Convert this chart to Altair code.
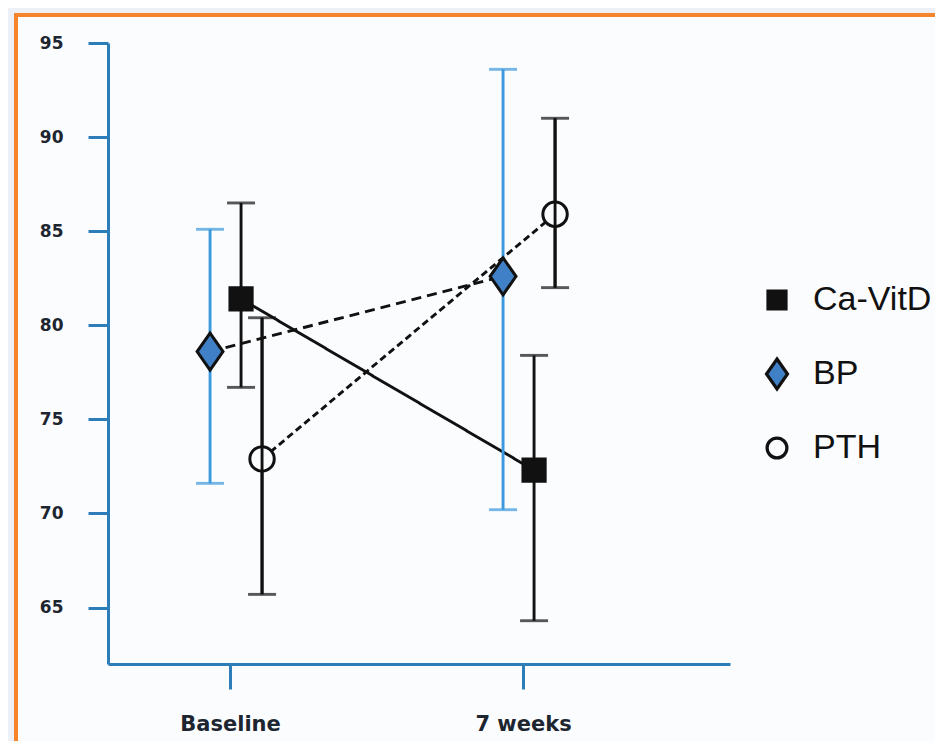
import altair as alt
import pandas as pd

# ---- data ----
series = ["Ca-VitD", "BP", "PTH"]
times = ["Baseline", "7 weeks"]
mean_ca = [81.4, 72.3]
low_ca = [76.7, 64.3]
high_ca = [86.5, 78.4]
mean_bp = [78.6, 82.6]
low_bp = [71.6, 70.2]
high_bp = [85.1, 93.6]
mean_pth = [72.9, 85.9]
low_pth = [65.7, 82.0]
high_pth = [80.4, 91.0]
y_ticks = [65, 70, 75, 80, 85, 90, 95]

# ---- styles ----
OFFSET = {"Ca-VitD": 11, "BP": -20, "PTH": 32}   # pixel dodge of each series
DASH = {"Ca-VitD": [1, 0], "BP": [10, 6], "PTH": [7, 4]}
BLACK = "#111111"
BLUE_BAR = "#3c99dd"
BLUE_FILL = "#3f80c6"
AXIS_BLUE = "#2d7db8"
LW = 2.9

rows = []
for s, m, lo, hi in [("Ca-VitD", mean_ca, low_ca, high_ca),
                     ("BP", mean_bp, low_bp, high_bp),
                     ("PTH", mean_pth, low_pth, high_pth)]:
    for i, t in enumerate(times):
        rows.append({"series": s, "time": t, "mean": m[i], "low": lo[i], "high": hi[i],
                     "off": OFFSET[s]})
df = pd.DataFrame(rows)

x_enc = alt.X("time:N", sort=times,
              scale=alt.Scale(type="point", domain=times, padding=0.5614, align=0.371),
              axis=alt.Axis(title=None, labelAngle=0, domainColor=AXIS_BLUE, domainWidth=3,
                            tickColor=AXIS_BLUE, tickWidth=3, tickSize=25,
                            labelFont="DejaVu Sans", labelFontWeight="bold", labelFontSize=21,
                            labelColor="#1d2630", labelPadding=24, zindex=1))
xo = alt.XOffset("off:Q", scale=None)
y_scale = alt.Scale(domain=[62, 95], nice=False, zero=False)
y_axis = alt.Axis(title=None, values=y_ticks, grid=False, domainColor=AXIS_BLUE, domainWidth=3,
                  tickColor=AXIS_BLUE, tickWidth=3, tickSize=20,
                  labelFont="DejaVu Sans", labelFontWeight="bold", labelFontSize=17,
                  labelColor="#1d2630", labelPadding=25, zindex=1)

base = alt.Chart(df)

frame = alt.Chart(pd.DataFrame({"a": [0]})).mark_rect(
    fill="#fbfcfe", stroke="#f5842a", strokeWidth=4, clip=False
).encode(x=alt.value(-92), x2=alt.value(880), y=alt.value(-28), y2=alt.value(760))

line_layers = []
for s in series:
    line_layers.append(
        base.transform_filter(alt.datum.series == s).mark_line(
            strokeWidth=LW, color=BLACK, strokeDash=DASH[s]).encode(
            x=x_enc, xOffset=xo,
            y=alt.Y("mean:Q", scale=y_scale, axis=y_axis),
            order=alt.Order("time_idx:Q"),
        ).transform_calculate(time_idx="datum.time == 'Baseline' ? 0 : 1")
    )

bar_color = alt.condition("datum.series == 'BP'", alt.value(BLUE_BAR), alt.value(BLACK))
rules = base.mark_rule(strokeWidth=LW).encode(
    x=x_enc, xOffset=xo, y=alt.Y("low:Q", scale=y_scale), y2="high:Q", color=bar_color)
caps_top = base.mark_tick(thickness=LW, size=28, orient="horizontal").encode(
    x=x_enc, xOffset=xo, y=alt.Y("high:Q", scale=y_scale), color=bar_color)
caps_low = base.mark_tick(thickness=LW, size=28, orient="horizontal").encode(
    x=x_enc, xOffset=xo, y=alt.Y("low:Q", scale=y_scale), color=bar_color)

shape_paths = [
    "M-0.6,-0.6L0.6,-0.6L0.6,0.6L-0.6,0.6Z",
    "M0,-1L0.7,0L0,1L-0.7,0Z",
    "M-0.66,0A0.66,0.66 0 1,0 0.66,0A0.66,0.66 0 1,0 -0.66,0Z",
]
legend = alt.Legend(title=None, orient="none", legendX=652, legendY=240,
                    labelFont="Liberation Sans", labelFontSize=34, labelColor=BLACK,
                    symbolSize=900, symbolStrokeWidth=3.2, rowPadding=35,
                    labelOffset=19, zindex=1)
points = base.mark_point(size=1369, strokeWidth=3, opacity=1, filled=False).encode(
    x=x_enc, xOffset=xo, y=alt.Y("mean:Q", scale=y_scale),
    shape=alt.Shape("series:N", scale=alt.Scale(domain=series, range=shape_paths), legend=legend),
    fill=alt.Fill("series:N", scale=alt.Scale(domain=series, range=[BLACK, BLUE_FILL, "#fbfcfe"]),
                  legend=legend),
    stroke=alt.Stroke("series:N", scale=alt.Scale(domain=series, range=[BLACK, BLACK, BLACK]),
                      legend=legend),
)

pth_rule = base.transform_filter("datum.series == 'PTH'").mark_rule(
    strokeWidth=LW, color=BLACK).encode(
    x=x_enc, xOffset=xo, y=alt.Y("low:Q", scale=y_scale), y2="high:Q")

chart = alt.layer(frame, *line_layers, rules, caps_top, caps_low, points, pth_rule).properties(
    width=622, height=621,
    padding={"left": 100, "top": 35, "right": 205, "bottom": 77},
    autosize=alt.AutoSizeParams(type="none"),
    background="#edf0f7",
).configure_view(stroke=None)

chart.save("out.html", embed_options={"renderer": "svg", "actions": False})
